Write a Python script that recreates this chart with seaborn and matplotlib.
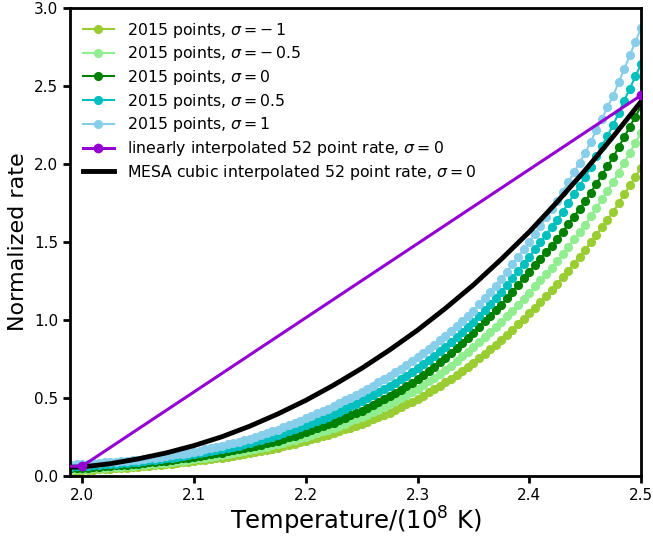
import numpy as np
import matplotlib
matplotlib.use("Agg")
import matplotlib.pyplot as plt
import seaborn as sns

# Temperature grid of the "2015 points" curves (T in 1e8 K)
T_2015 = np.round(np.arange(1.990, 2.50001, 0.005), 3)

rate_sig_m1 = [
    0.0340, 0.0350,
    0.0360, 0.0380, 0.0401, 0.0421, 0.0442,
    0.0462, 0.0488, 0.0515, 0.0541, 0.0568,
    0.0594, 0.0625, 0.0657, 0.0688, 0.0720,
    0.0751, 0.0791, 0.0831, 0.0870, 0.0910,
    0.0950, 0.0997, 0.1044, 0.1090, 0.1137,
    0.1184, 0.1242, 0.1300, 0.1359, 0.1417,
    0.1475, 0.1544, 0.1613, 0.1682, 0.1751,
    0.1820, 0.1905, 0.1990, 0.2075, 0.2160,
    0.2245, 0.2344, 0.2444, 0.2543, 0.2643,
    0.2742, 0.2864, 0.2985, 0.3107, 0.3229,
    0.3350, 0.3494, 0.3638, 0.3782, 0.3926,
    0.4070, 0.4245, 0.4420, 0.4595, 0.4770,
    0.4945, 0.5155, 0.5365, 0.5576, 0.5786,
    0.5996, 0.6251, 0.6506, 0.6760, 0.7015,
    0.7270, 0.7557, 0.7844, 0.8130, 0.8417,
    0.8704, 0.9047, 0.9390, 0.9734, 1.0077,
    1.0420, 1.0794, 1.1167, 1.1541, 1.1914,
    1.2288, 1.2728, 1.3169, 1.3609, 1.4050,
    1.4490, 1.4976, 1.5462, 1.5949, 1.6435,
    1.6921, 1.7489, 1.8056, 1.8624, 1.9192,
    1.9760,
]

rate_sig_m05 = [
    0.0415, 0.0427,
    0.0440, 0.0463, 0.0485, 0.0508, 0.0530,
    0.0553, 0.0581, 0.0610, 0.0638, 0.0667,
    0.0695, 0.0729, 0.0763, 0.0798, 0.0832,
    0.0866, 0.0909, 0.0952, 0.0994, 0.1037,
    0.1080, 0.1132, 0.1184, 0.1235, 0.1287,
    0.1339, 0.1403, 0.1467, 0.1532, 0.1596,
    0.1660, 0.1737, 0.1814, 0.1891, 0.1968,
    0.2045, 0.2140, 0.2235, 0.2330, 0.2425,
    0.2520, 0.2632, 0.2745, 0.2857, 0.2970,
    0.3082, 0.3220, 0.3357, 0.3495, 0.3632,
    0.3770, 0.3933, 0.4097, 0.4260, 0.4424,
    0.4587, 0.4786, 0.4984, 0.5183, 0.5381,
    0.5580, 0.5821, 0.6062, 0.6303, 0.6544,
    0.6785, 0.7078, 0.7371, 0.7664, 0.7957,
    0.8250, 0.8569, 0.8888, 0.9208, 0.9527,
    0.9846, 1.0227, 1.0608, 1.0988, 1.1369,
    1.1750, 1.2151, 1.2552, 1.2952, 1.3353,
    1.3754, 1.4223, 1.4692, 1.5162, 1.5631,
    1.6100, 1.6644, 1.7188, 1.7732, 1.8276,
    1.8820, 1.9456, 2.0092, 2.0728, 2.1364,
    2.2000,
]

rate_sig_0 = [
    0.0490, 0.0505,
    0.0520, 0.0545, 0.0570, 0.0595, 0.0620,
    0.0645, 0.0676, 0.0707, 0.0738, 0.0769,
    0.0800, 0.0838, 0.0875, 0.0913, 0.0950,
    0.0988, 0.1034, 0.1081, 0.1127, 0.1174,
    0.1220, 0.1276, 0.1333, 0.1389, 0.1446,
    0.1502, 0.1572, 0.1641, 0.1711, 0.1780,
    0.1850, 0.1935, 0.2020, 0.2106, 0.2191,
    0.2276, 0.2381, 0.2485, 0.2590, 0.2695,
    0.2800, 0.2926, 0.3052, 0.3177, 0.3303,
    0.3429, 0.3583, 0.3737, 0.3892, 0.4046,
    0.4200, 0.4381, 0.4561, 0.4742, 0.4922,
    0.5103, 0.5322, 0.5542, 0.5761, 0.5981,
    0.6200, 0.6471, 0.6741, 0.7012, 0.7282,
    0.7553, 0.7882, 0.8212, 0.8541, 0.8871,
    0.9200, 0.9556, 0.9911, 1.0267, 1.0622,
    1.0978, 1.1402, 1.1827, 1.2251, 1.2676,
    1.3100, 1.3517, 1.3934, 1.4350, 1.4767,
    1.5184, 1.5667, 1.6150, 1.6634, 1.7117,
    1.7600, 1.8165, 1.8730, 1.9294, 1.9859,
    2.0424, 2.1079, 2.1734, 2.2390, 2.3045,
    2.3700,
]

rate_sig_p05 = [
    0.0605, 0.0622,
    0.0640, 0.0665, 0.0691, 0.0716, 0.0742,
    0.0767, 0.0798, 0.0828, 0.0859, 0.0889,
    0.0920, 0.0961, 0.1003, 0.1044, 0.1086,
    0.1127, 0.1178, 0.1228, 0.1279, 0.1329,
    0.1380, 0.1446, 0.1512, 0.1578, 0.1644,
    0.1710, 0.1792, 0.1874, 0.1956, 0.2038,
    0.2120, 0.2221, 0.2322, 0.2423, 0.2524,
    0.2625, 0.2750, 0.2875, 0.3000, 0.3125,
    0.3250, 0.3390, 0.3530, 0.3670, 0.3810,
    0.3950, 0.4120, 0.4290, 0.4460, 0.4630,
    0.4800, 0.4991, 0.5182, 0.5373, 0.5564,
    0.5755, 0.5984, 0.6213, 0.6442, 0.6671,
    0.6900, 0.7173, 0.7446, 0.7719, 0.7992,
    0.8265, 0.8592, 0.8919, 0.9246, 0.9573,
    0.9900, 1.0279, 1.0658, 1.1036, 1.1415,
    1.1794, 1.2245, 1.2696, 1.3148, 1.3599,
    1.4050, 1.4521, 1.4991, 1.5462, 1.5932,
    1.6403, 1.6952, 1.7502, 1.8051, 1.8601,
    1.9150, 1.9817, 2.0484, 2.1151, 2.1818,
    2.2485, 2.3268, 2.4051, 2.4834, 2.5617,
    2.6400,
]

rate_sig_p1 = [
    0.0727, 0.0748,
    0.0770, 0.0796, 0.0822, 0.0847, 0.0873,
    0.0899, 0.0929, 0.0959, 0.0990, 0.1020,
    0.1050, 0.1095, 0.1140, 0.1186, 0.1231,
    0.1276, 0.1331, 0.1386, 0.1440, 0.1495,
    0.1550, 0.1626, 0.1702, 0.1777, 0.1853,
    0.1929, 0.2023, 0.2117, 0.2212, 0.2306,
    0.2400, 0.2516, 0.2632, 0.2748, 0.2864,
    0.2980, 0.3124, 0.3268, 0.3412, 0.3556,
    0.3700, 0.3854, 0.4008, 0.4162, 0.4316,
    0.4470, 0.4656, 0.4842, 0.5028, 0.5214,
    0.5400, 0.5601, 0.5802, 0.6004, 0.6205,
    0.6406, 0.6645, 0.6884, 0.7122, 0.7361,
    0.7600, 0.7875, 0.8150, 0.8426, 0.8701,
    0.8976, 0.9301, 0.9626, 0.9950, 1.0275,
    1.0600, 1.1002, 1.1404, 1.1806, 1.2208,
    1.2610, 1.3088, 1.3566, 1.4044, 1.4522,
    1.5000, 1.5524, 1.6048, 1.6572, 1.7096,
    1.7620, 1.8236, 1.8852, 1.9468, 2.0084,
    2.0700, 2.1434, 2.2168, 2.2902, 2.3636,
    2.4370, 2.5236, 2.6102, 2.6968, 2.7834,
    2.8700,
]

# 52-point table entries (linear interpolation)
T_table = [1.75, 2.00, 2.50, 2.75]
rate_table = [0.020, 0.064, 2.440, 6.500]

# MESA cubic interpolated curve
T_mesa = [1.975, 2.000, 2.025, 2.050, 2.075, 2.100, 2.125, 2.150, 2.175, 2.200,
          2.225, 2.250, 2.275, 2.300, 2.325, 2.350, 2.375, 2.400, 2.425, 2.450,
          2.475, 2.500]
rate_mesa = [0.054, 0.058, 0.079, 0.110, 0.148, 0.195, 0.252, 0.320, 0.398, 0.485,
             0.583, 0.690, 0.808, 0.935, 1.075, 1.225, 1.390, 1.565, 1.757, 1.960,
             2.175, 2.400]

sigma_labels = [r"-\,1", r"-\,0.5", "0", "0.5", "1"]
sigma_colors = ["yellowgreen", "lightgreen", "green", "c", "skyblue"]
sigma_series = [rate_sig_m1, rate_sig_m05, rate_sig_0, rate_sig_p05, rate_sig_p1]

plt.rcParams["font.family"] = ["DejaVu Sans"]
plt.rcParams["mathtext.fontset"] = "dejavusans"

fig, ax = plt.subplots(figsize=(6.53, 5.38), dpi=100)
fig.subplots_adjust(left=0.1072, right=0.9816, top=0.9851, bottom=0.1152)

for lab, col, vals in zip(sigma_labels, sigma_colors, sigma_series):
    sns.lineplot(x=T_2015, y=vals, ax=ax, color=col, lw=1.5, marker="o",
                 markersize=6.6, markeredgewidth=0, markeredgecolor=col,
                 label=r"2015 points, $\sigma = %s$" % lab, sort=False,
                 estimator=None)

sns.lineplot(x=T_table, y=rate_table, ax=ax, color="darkviolet", lw=2.2,
             marker="o", markersize=7, markeredgewidth=0,
             markeredgecolor="darkviolet", zorder=5, sort=False, estimator=None,
             label=r"linearly interpolated 52 point rate, $\sigma = 0$")
sns.lineplot(x=T_mesa, y=rate_mesa, ax=ax, color="black", lw=3.5, zorder=4,
             sort=False, estimator=None,
             label=r"MESA cubic interpolated 52 point rate, $\sigma = 0$")

ax.set_xlim(1.989, 2.5)
ax.set_ylim(0, 3.0)
ax.set_xticks([2.0, 2.1, 2.2, 2.3, 2.4, 2.5])
ax.set_yticks([0.0, 0.5, 1.0, 1.5, 2.0, 2.5, 3.0])
ax.set_xticklabels(["2.0", "2.1", "2.2", "2.3", "2.4", "2.5"])
ax.set_yticklabels(["0.0", "0.5", "1.0", "1.5", "2.0", "2.5", "3.0"])
ax.tick_params(axis="both", direction="out", length=5, width=2, labelsize=11,
               colors="black")
for sp in ax.spines.values():
    sp.set_linewidth(2)
    sp.set_color("black")

ax.set_xlabel(r"Temperature/($10^8$ K)", fontsize=17.5, labelpad=1.5)
ax.set_ylabel("Normalized rate", fontsize=16)

leg = ax.legend(loc="upper left", frameon=False, fontsize=11.3,
                labelspacing=0.3, borderaxespad=0.4)

fig.savefig("out.png", dpi=100)
